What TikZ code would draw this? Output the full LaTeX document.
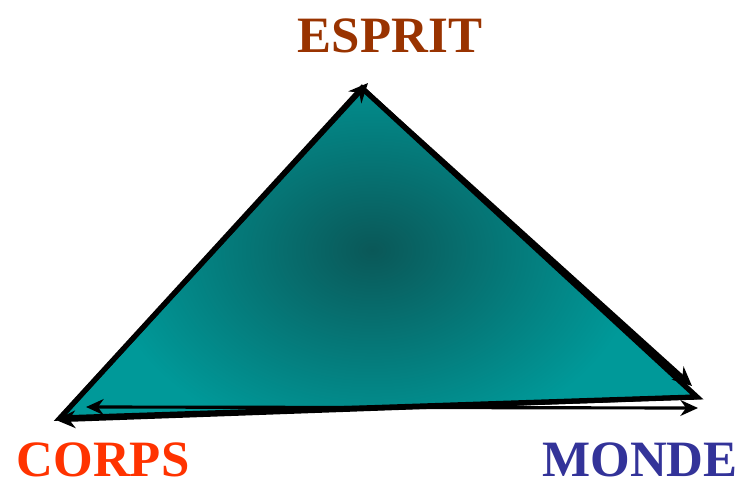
\documentclass[tikz,border=0pt]{standalone}
\usepackage{fontspec}
\setmainfont{Liberation Serif}
\usepackage{tikz}
\usetikzlibrary{positioning, arrows.meta}

\definecolor{espritcol}{HTML}{993300}
\definecolor{corpscol}{HTML}{FF3300}
\definecolor{mondecol}{HTML}{333399}
\definecolor{tealedge}{HTML}{009999}
\definecolor{tealcore}{HTML}{0A5858}

\begin{document}
\begin{tikzpicture}[
  x=0.02cm, y=-0.02cm,
  lbl/.style={font=\fontsize{29}{33}\selectfont\bfseries, inner sep=0pt},
  edge/.style={line width=3pt, line join=miter},
  op/.style={-{Stealth[length=11pt, width=10pt]}, line width=2.6pt}
]
  \useasboundingbox (0,0) rectangle (744,487);

  % vertices of the triangle
  \coordinate (E) at (362,88);
  \coordinate (C) at (60,418);
  \coordinate (M) at (697,397);
  % arrow ends
  \coordinate (e1) at (368,83);
  \coordinate (m1) at (692,386);
  \coordinate (c1) at (56,420);
  \coordinate (c2) at (86,407);
  \coordinate (m2) at (698,408);

  % shaded body
  \begin{scope}
    \clip (C) -- (E) -- (M) -- cycle;
    \fill[tealedge] (C) -- (E) -- (M) -- cycle;
    \shade[inner color=tealcore, outer color=tealedge] (372,250) ellipse (270 and 200);
  \end{scope}
  \draw[edge] (C) -- (E) -- (M) -- cycle;

  % arrows
  \draw[op] (C) -- (e1);
  \draw[op] (E) -- (m1);
  \draw[op] (M) -- (c1);
  \draw[op, {Stealth[length=10pt, width=9pt]}-{Stealth[length=10pt, width=9pt]}, line width=1.8pt] (c2) -- (m2);

  % labels
  \node[lbl, text=espritcol] (esprit) at (390,36) {ESPRIT};
  \node[lbl, text=corpscol] (corps) at (103,460) {CORPS};
  \node[lbl, text=mondecol] (monde) at (640,460) {MONDE};
\end{tikzpicture}
\end{document}
